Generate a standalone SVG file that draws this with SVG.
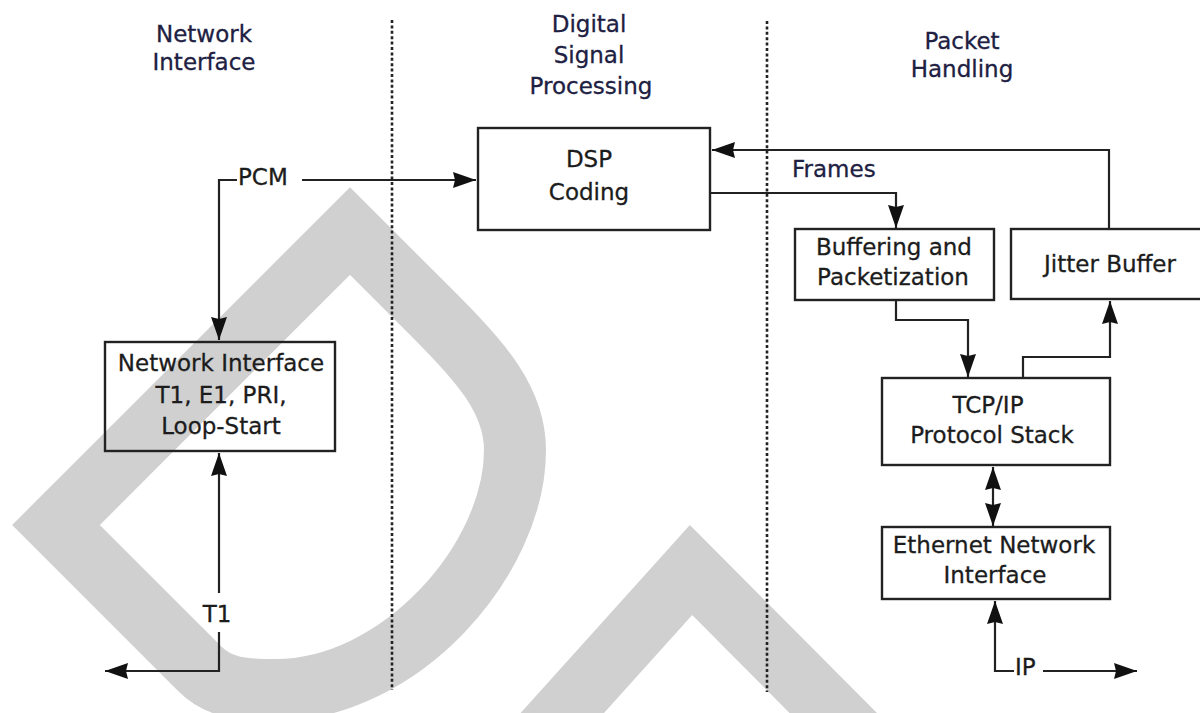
<svg xmlns="http://www.w3.org/2000/svg" width="1200" height="713" viewBox="0 0 1200 713">
  <style>
    .wm { fill: none; stroke: #d0d0d0; stroke-width: 62; stroke-linejoin: miter; stroke-miterlimit: 10; }
    .box { fill: none; stroke: #222; stroke-width: 2.4; }
    .ln { fill: none; stroke: #222; stroke-width: 2.2; }
    .arr { marker-end: url(#ah); }
    .arr2 { marker-start: url(#ah); marker-end: url(#ah); }
    .dot { fill: none; stroke: #222; stroke-width: 2.6; stroke-dasharray: 3 2.4; }
    .t { font-family: "DejaVu Sans", "Liberation Sans", sans-serif; font-size: 23px; fill: #1c1c1c; text-anchor: middle; stroke: #1c1c1c; stroke-width: 0.3; }
    .l { text-anchor: start; }
    .h { fill: #202042; stroke: #202042; }
  </style>
  <defs>
    <marker id="ah" viewBox="-26 -9 28 18" refX="0" refY="0" markerWidth="28" markerHeight="18" markerUnits="userSpaceOnUse" orient="auto-start-reverse">
      <path d="M0,0 L-23,-8 L-21,0 L-23,8 Z" fill="#111"/>
    </marker>
  </defs>
  <rect width="1200" height="713" fill="#ffffff"/>

  <g id="background-shapes">
    <path class="wm" d="M 56,525 L 350,231 L 435,316 C 480,361 515,400 515,450 C 515,560 400,690 275,690 C 245,690 220,689 200,669 Z"/>
    <path class="wm" d="M 520,760 L 691,570 L 880,760"/>
  </g>

  <g id="separators">
    <line class="dot" x1="392" y1="20" x2="392" y2="690"/>
    <line class="dot" x1="767" y1="21" x2="767" y2="692"/>
  </g>

  <g id="headers">
    <text class="t h" x="204" y="42">Network</text>
    <text class="t h" x="204" y="70">Interface</text>
    <text class="t h" x="589" y="32">Digital</text>
    <text class="t h" x="589" y="63">Signal</text>
    <text class="t h" x="591" y="94">Processing</text>
    <text class="t h" x="962" y="49">Packet</text>
    <text class="t h" x="962" y="77">Handling</text>
  </g>

  <g id="connectors">
    <path class="ln arr" d="M 302,180 L 476,180"/>
    <path class="ln arr" d="M 237,180 L 219,180 L 219,340"/>
    <path class="ln arr" d="M 219,593 L 219,453"/>
    <path class="ln arr" d="M 219,632 L 219,671 L 105,671"/>
    <path class="ln arr" d="M 710,193 L 896,193 L 896,228"/>
    <path class="ln arr" d="M 1109,229 L 1109,150 L 712,150"/>
    <path class="ln arr" d="M 896,300 L 896,320 L 968,320 L 968,377"/>
    <path class="ln arr" d="M 1023,378 L 1023,357 L 1110,357 L 1110,301"/>
    <path class="ln arr2" d="M 993,467 L 993,526"/>
    <path class="ln arr" d="M 1014,671 L 995,671 L 995,601"/>
    <path class="ln arr" d="M 1043,671 L 1137,671"/>
    <text class="t l" x="238" y="185">PCM</text>
    <text class="t l h" x="792" y="177">Frames</text>
    <text class="t" x="217" y="622">T1</text>
    <text class="t l" x="1015" y="675">IP</text>
  </g>

  <g id="dsp-coding">
    <rect class="box" x="478" y="128" width="232" height="102"/>
    <text class="t" x="589" y="167">DSP</text>
    <text class="t" x="589" y="200">Coding</text>
  </g>

  <g id="network-interface">
    <rect class="box" x="105" y="342" width="230" height="109"/>
    <text class="t" x="221" y="371">Network Interface</text>
    <text class="t" x="221" y="403">T1, E1, PRI,</text>
    <text class="t" x="221" y="434">Loop-Start</text>
  </g>

  <g id="buffering">
    <rect class="box" x="795" y="229" width="199" height="71"/>
    <text class="t" x="894" y="255">Buffering and</text>
    <text class="t" x="893" y="285">Packetization</text>
  </g>

  <g id="jitter-buffer">
    <rect class="box" x="1011" y="229" width="210" height="70"/>
    <text class="t" x="1110" y="272">Jitter Buffer</text>
  </g>

  <g id="tcpip">
    <rect class="box" x="882" y="378" width="228" height="87"/>
    <text class="t" x="988" y="413">TCP/IP</text>
    <text class="t" x="992" y="443">Protocol Stack</text>
  </g>

  <g id="ethernet">
    <rect class="box" x="882" y="527" width="228" height="72"/>
    <text class="t" x="994" y="553">Ethernet Network</text>
    <text class="t" x="995" y="583">Interface</text>
  </g>
</svg>
